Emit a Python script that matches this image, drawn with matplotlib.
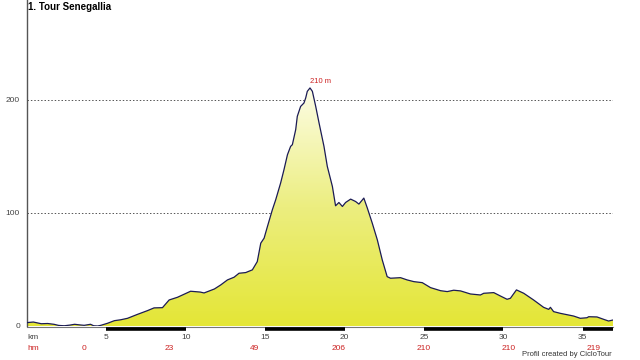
import numpy as np
import matplotlib
matplotlib.use("Agg")
import matplotlib.pyplot as plt
from matplotlib.colors import LinearSegmentedColormap

plt.rcParams['font.family'] = ['Liberation Sans', 'DejaVu Sans']

# profile: distance (km) / elevation (m)
km = [0.0, 0.4, 0.9, 1.3, 1.7, 2.0, 2.35, 2.7, 3.0, 3.3, 3.6, 4.0, 4.2, 4.45, 4.65,
      5.07, 5.5, 5.9, 6.33, 6.96, 7.59, 8.0, 8.53, 8.95, 9.48, 10.3, 10.9, 11.15,
      11.8, 12.2, 12.62, 13.04, 13.35, 13.77, 14.19, 14.5, 14.72, 14.93, 15.14,
      15.45, 15.66, 15.97, 16.18, 16.4, 16.6, 16.71, 16.92, 17.02, 17.23, 17.44,
      17.55, 17.65, 17.82, 17.97, 18.18, 18.39, 18.7, 18.91, 19.23, 19.43, 19.64,
      19.86, 20.06, 20.38, 20.69, 20.9, 21.21, 21.43, 21.74, 22.06, 22.37, 22.68,
      22.89, 23.52, 23.94, 24.36, 24.89, 25.41, 26.04, 26.46, 26.87, 27.3, 27.92,
      28.55, 28.76, 29.39, 29.81, 30.23, 30.44, 30.82, 31.28, 31.9, 32.53, 32.85,
      32.96, 33.16, 33.58, 34.42, 34.84, 35.26, 35.37, 35.89, 36.31, 36.62, 36.9]
elev = [3.0, 3.5, 2.0, 2.2, 1.5, 0.5, 0.2, 0.8, 1.5, 1.0, 0.6, 1.5, 0.2, 0.0, 0.6,
        2.4, 4.7, 5.5, 6.8, 10.3, 13.6, 16.0, 16.2, 23.0, 25.4, 30.7, 30.0, 29.2,
        32.7, 36.3, 40.7, 43.1, 46.6, 47.2, 49.6, 56.9, 73.2, 77.6, 87.9,
        102.7, 111.5, 126.3, 138.0, 151.3, 158.7, 160.2, 173.5, 185.2, 194.0, 197.0,
        201.5, 207.3, 210.3, 207.3, 194.0, 179.4, 158.7, 141.0, 123.3, 106.2, 109.1,
        105.6, 109.1, 112.1, 110.0, 107.7, 113.0, 104.2, 90.9, 76.1, 58.4, 43.6,
        42.2, 42.7, 40.7, 39.2, 38.3, 33.9, 31.2, 30.4, 31.6, 31.0, 28.3,
        27.4, 28.9, 29.5, 26.5, 23.6, 24.5, 31.9, 28.9, 23.0, 16.5, 14.7,
        16.5, 12.7, 11.2, 8.8, 6.8, 7.3, 8.2, 8.0, 5.9, 4.4, 5.3]

xticks = [5, 10, 15, 20, 25, 30, 35]
yticks = [0, 100, 200]
hm_values = ["0", "23", "49", "206", "210", "210", "219"]
peak_label = "210 m"
title = "1. Tour Senegallia"

km = np.array(km)
elev = np.array(elev)
total = km[-1]

fig = plt.figure(figsize=(6.4, 3.6), dpi=100)
ax = fig.add_axes([27 / 640, 34 / 360, (613 - 27) / 640, 326 / 360])
ax.set_xlim(0, total)
ax.set_ylim(0, 288)

# gradient fill under the profile
cmap = LinearSegmentedColormap.from_list("prof", ["#e4e636", "#ecee80", "#fdfde6"])
grad = np.linspace(0, 1, 256).reshape(-1, 1)
poly = ax.fill_between(km, elev, 0, color="none")
img = ax.imshow(grad, aspect="auto", cmap=cmap, origin="lower",
                extent=[0, total, 0, elev.max()], zorder=1)
img.set_clip_path(poly.get_paths()[0], transform=ax.transData)
ax.plot(km, elev, color="#1b1b55", lw=0.9, zorder=3)

# grid
for y in yticks[1:]:
    ax.axhline(y, color="#555555", lw=0.7, ls=(0, (1.5, 2)), zorder=0)

for s in ["top", "right", "bottom"]:
    ax.spines[s].set_visible(False)
ax.spines["left"].set_color("#555555")
ax.spines["left"].set_linewidth(1.0)

ax.set_xticks([])
ax.set_yticks(yticks)
ax.set_yticklabels([str(v) for v in yticks], fontsize=6, color="#444444")
ax.tick_params(axis="y", length=0, pad=5)

# bottom km scale with alternating segments
trans = ax.get_xaxis_transform()
ax.plot([0, total], [-0.004, -0.004], transform=trans, color="#777777", lw=0.8, clip_on=False)
edges = list(range(0, int(total) + 1, 5)) + [total]
for i in range(len(edges) - 1):
    if i % 2 == 1:
        ax.plot([edges[i], edges[i + 1]], [-0.01, -0.01], transform=trans,
                color="black", lw=2.6, solid_capstyle="butt", clip_on=False)
for t in xticks:
    ax.text(t, -0.035, str(t), transform=trans, ha="center", va="center",
            fontsize=6, color="#444444")
ax.text(0, -0.035, "km", transform=trans, ha="left", va="center", fontsize=6, color="#444444")
ax.text(0, -0.07, "hm", transform=trans, ha="left", va="center", fontsize=6, color="#cc2222")
hm_pos = 3.6 + 5.35 * np.arange(len(hm_values))
for p, v in zip(hm_pos, hm_values):
    ax.text(p, -0.07, v, transform=trans, ha="center", va="center", fontsize=6, color="#cc2222")

# peak label
ipk = int(np.argmax(elev))
ax.annotate(peak_label, (km[ipk], elev[ipk]), xytext=(0, 5), textcoords="offset points",
            ha="left", va="center", fontsize=5.5, color="#cc2222")

fig.text(28 / 640, 1 - 7 / 360, title, ha="left", va="center", fontsize=7, fontweight="bold")
fig.text(612 / 640, 1 - 355 / 360, "Profil created by CicloTour", ha="right", va="center",
         fontsize=5.5, color="#333333")

fig.savefig("out.png", dpi=100)
